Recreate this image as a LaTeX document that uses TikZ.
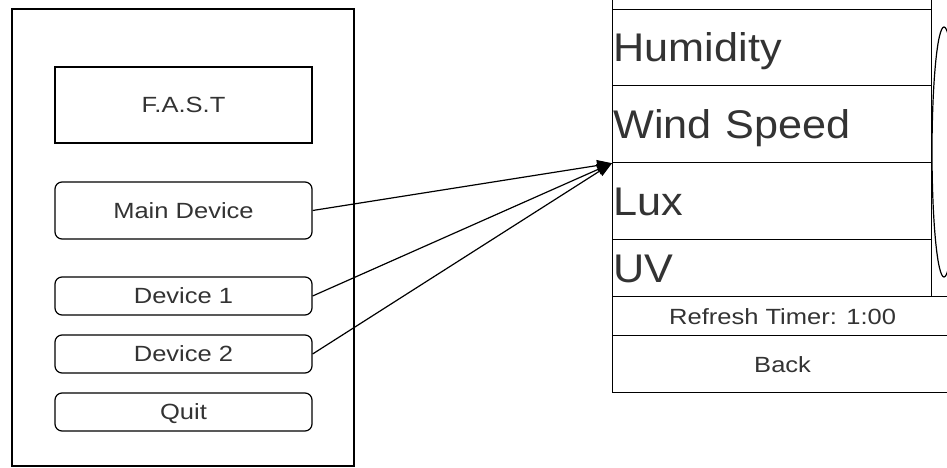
\documentclass[tikz,border=0pt]{standalone}
\usepackage{fontspec}
\setmainfont{Liberation Sans}
\newfontfamily\smallface{Liberation Sans}[FakeStretch=1.16]
\newfontfamily\bigface{Liberation Sans}[FakeStretch=1.08]
\usetikzlibrary{arrows.meta,shapes.geometric}

\tikzset{
  frame/.style={draw, line width=1.2pt},
  box/.style={frame, minimum width=257pt, text=black!80, inner sep=0pt,
    font=\smallface\fontsize{22}{26}\selectfont, text height=15.8pt, text depth=0pt},
  btn/.style={box, rounded corners=7pt},
  row/.style={frame, anchor=north west, minimum width=319pt, text width=317pt,
    inner xsep=1pt, inner ysep=0pt, align=left, text=black!80,
    font=\bigface\fontsize{40}{46}\selectfont, text height=28.7pt, text depth=0pt},
  bar/.style={frame, anchor=north west, minimum width=340pt, inner sep=0pt,
    text=black!80, font=\smallface\fontsize{22}{26}\selectfont, text height=15.8pt, text depth=0pt},
  link/.style={line width=1.2pt, -{Triangle[length=15pt,width=11pt]}}
}

\begin{document}
\begin{tikzpicture}[x=1pt,y=-1pt]
\useasboundingbox (0,0) rectangle (947,468);
\clip (0,0) rectangle (947,468);

% start screen
\node[frame, minimum width=342pt, minimum height=457pt] (panel) at (183,237.5) {};
\node[box, minimum height=76pt] (fast) at (183.5,105) {F.A.S.T};
\node[btn, minimum height=57pt] (main) at (183.5,210.5) {Main Device};
\node[btn, minimum height=38pt] (dev1) at (183.5,296) {Device 1};
\node[btn, minimum height=38pt] (dev2) at (183.5,354) {Device 2};
\node[btn, minimum height=38pt] (quit) at (183.5,412) {Quit};

% device screen
\node[row, minimum height=76pt] (top) at (612,-67) {};
\node[row, minimum height=76pt] (hum) at (612,9) {Humidity};
\node[row, minimum height=77pt] (wind) at (612,85) {Wind Speed};
\node[row, minimum height=77pt] (lux) at (612,162) {Lux};
\node[row, minimum height=57pt] (uv) at (612,239) {UV};
\node[bar, minimum height=39pt] (refresh) at (612,296) {Refresh Timer: 1:00};
\node[bar, minimum height=57pt] (back) at (612,335) {Back};
\node[frame, ellipse, minimum width=24pt, minimum height=250pt, inner sep=0pt] (scroll) at (944,152) {};

\draw[link] (main.east) -- (wind.south west);
\draw[link] (dev1.east) -- (wind.south west);
\draw[link] (dev2.east) -- (wind.south west);
\end{tikzpicture}
\end{document}
